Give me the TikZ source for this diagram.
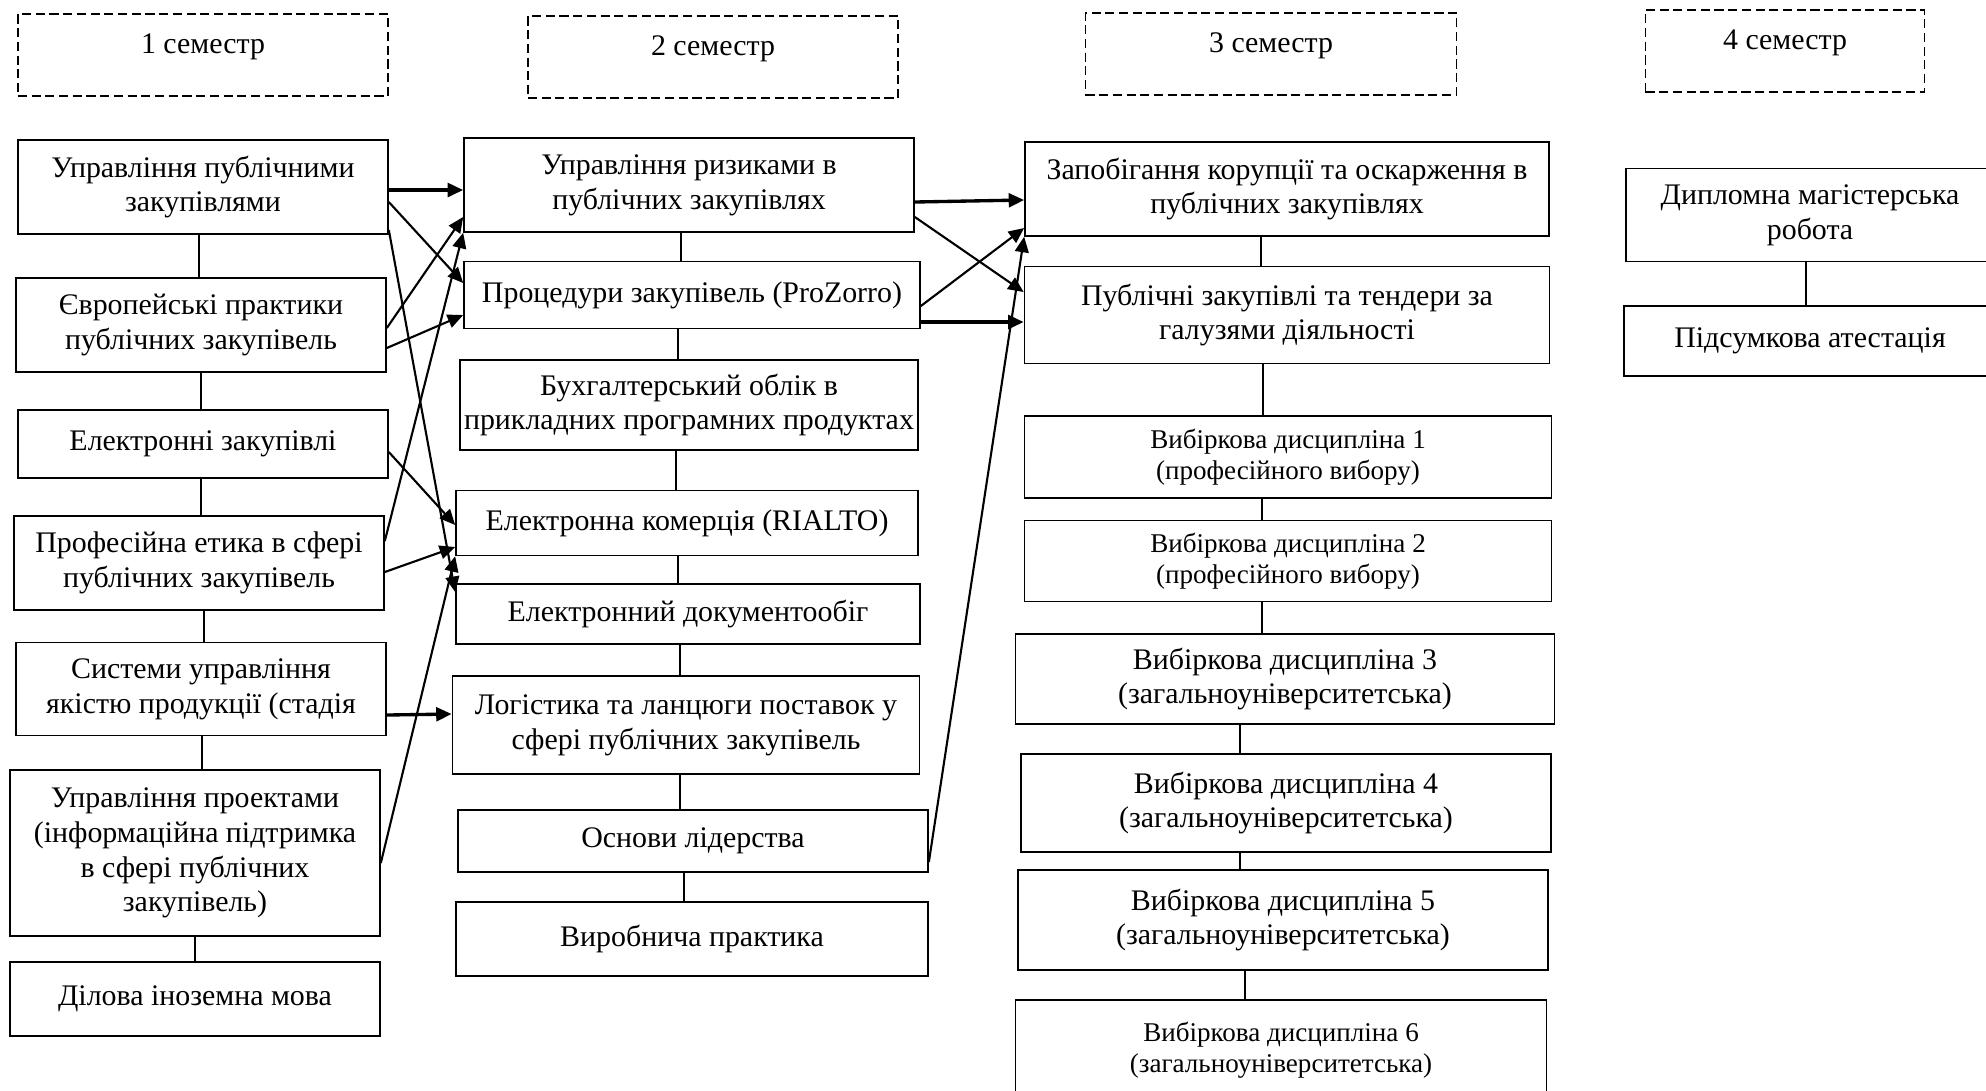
\documentclass[tikz,border=0pt]{standalone}
\usepackage{fontspec}
\setmainfont{Liberation Serif}
\usetikzlibrary{arrows.meta}
\tikzset{sem/.style= {draw, dash pattern=on 2.6pt off 1.3pt, line width=0.45pt, inner sep=0pt, minimum height=0.82cm, text height=6pt, text depth=6.6pt, font=\fontsize{8.5}{9.9}\selectfont}}
\tikzset{box/.style= {draw, line width=0.4pt, align=center, inner sep=0pt, font=\fontsize{8.5}{9.9}\selectfont}}
\tikzset{sbox/.style= {box, font=\fontsize{7.7}{8.8}\selectfont}}
\tikzset{arr/.style= {-{Triangle[length=4.4pt,width=3.9pt]}, line width=0.6pt}}
\tikzset{tarr/.style= {arr, line width=0.95pt}}

\begin{document}
\begin{tikzpicture}[x=0.01cm, y=-0.01cm]
        \useasboundingbox (0,0) rectangle (1986,1090);

        \node[sem, minimum width=3.70cm](S1)at(203,55){1 семестр};
        \node[sem, minimum width=3.70cm](S2)at(713,57){2 семестр};
        \node[sem, minimum width=3.71cm](S3)at(1271,54){3 семестр};
        \node[sem, minimum width=2.79cm](S4)at(1785,51){4 семестр};

        \node[box, minimum width=3.70cm, minimum height=0.94cm](A1)at(203,187){Управління публічними\\закупівлями};
        \node[box, minimum width=3.70cm, minimum height=0.94cm](A2)at(201,325){Європейські практики\\публічних закупівель};
        \node[box, minimum width=3.70cm, minimum height=0.68cm](A3)at(203,444){Електронні закупівлі};
        \node[box, minimum width=3.70cm, minimum height=0.94cm](A4)at(199,563){Професійна етика в сфері\\публічних закупівель};
        \node[box, minimum width=3.70cm, minimum height=0.93cm](A5)at(201,689){Системи управління\\якістю продукції (стадія};
        \node[box, minimum width=3.70cm, minimum height=1.66cm](A6)at(195,853){Управління проектами\\(інформаційна підтримка\\в сфері публічних\\закупівель)};
        \node[box, minimum width=3.70cm, minimum height=0.74cm](A7)at(195,999){Ділова іноземна мова};

        \node[box, minimum width=4.50cm, minimum height=0.94cm](B1)at(689,185){Управління ризиками в\\публічних закупівлях};
        \node[box, minimum width=4.56cm, minimum height=0.67cm](B2)at(692,295){Процедури закупівель (ProZorro)};
        \node[box, minimum width=4.58cm, minimum height=0.90cm](B3)at(689,405){Бухгалтерський облік в\\прикладних програмних продуктах};
        \node[box, minimum width=4.62cm, minimum height=0.65cm](B4)at(687,523){Електронна комерція (RIALTO)};
        \node[box, minimum width=4.64cm, minimum height=0.60cm](B5)at(688,614){Електронний документообіг};
        \node[box, minimum width=4.67cm, minimum height=0.98cm](B6)at(686,725){Логістика та ланцюги поставок у\\сфері публічних закупівель};
        \node[box, minimum width=4.70cm, minimum height=0.62cm](B7)at(693,841){Основи лідерства};
        \node[box, minimum width=4.72cm, minimum height=0.74cm](B8)at(692,939){Виробнича практика};

        \node[box, minimum width=5.24cm, minimum height=0.94cm](C1)at(1287,189){Запобігання корупції та оскарження в\\публічних закупівлях};
        \node[box, minimum width=5.25cm, minimum height=0.97cm](C2)at(1287,315){Публічні закупівлі та тендери за\\галузями діяльності};
        \node[sbox, minimum width=5.27cm, minimum height=0.82cm](C3)at(1288,457){Вибіркова дисципліна 1\\(професійного вибору)};
        \node[sbox, minimum width=5.27cm, minimum height=0.81cm](C4)at(1288,561){Вибіркова дисципліна 2\\(професійного вибору)};
        \node[box, minimum width=5.39cm, minimum height=0.90cm](C5)at(1285,679){Вибіркова дисципліна 3\\(загальноуніверситетська)};
        \node[box, minimum width=5.30cm, minimum height=0.98cm](C6)at(1286,803){Вибіркова дисципліна 4\\(загальноуніверситетська)};
        \node[box, minimum width=5.30cm, minimum height=1.00cm](C7)at(1283,920){Вибіркова дисципліна 5\\(загальноуніверситетська)};
        \node[sbox, minimum width=5.31cm, minimum height=1.00cm](C8)at(1281,1050){Вибіркова дисципліна 6\\(загальноуніверситетська)};

        \node[box, minimum width=3.68cm, minimum height=0.93cm](D1)at(1810,215){Дипломна магістерська\\робота};
        \node[box, minimum width=3.72cm, minimum height=0.70cm](D2)at(1810,341){Підсумкова атестація};

        \foreach \u/\l/\x in {A1/A2/199, A2/A3/201, A3/A4/201, A4/A5/204, A5/A6/202, A6/A7/195,
                B1/B2/681, B2/B3/678, B3/B4/676, B4/B5/678, B5/B6/680, B6/B7/680, B7/B8/684,
                C1/C2/1261, C2/C3/1263, C3/C4/1262, C4/C5/1262, C5/C6/1240, C6/C7/1240, C7/C8/1245,
                D1/D2/1806}
                \draw[line width=0.4pt](\x,0 |- \u.south)--(\x,0 |- \l.north);

        \draw[tarr](A1.east |- 0,190)--(B1.west |- 0,190);
        \draw[arr](A1.east |- 0,202)--(B2.west |- 0,283);
        \draw[arr](A1.east |- 0,230)--(B5.west |- 0,592);
        \draw[arr](A2.east |- 0,328)--(B1.west |- 0,217);
        \draw[arr](A2.east |- 0,348)--(B2.west |- 0,315);
        \draw[arr](A4.east |- 0,541)--(B1.south west);
        \draw[arr](A3.east |- 0,452)--(B4.west |- 0,525);
        \draw[arr](A4.east |- 0,572)--(B4.west |- 0,547);
        \draw[arr](A6.east |- 0,863)--(B4.south west);
        \draw[tarr](A5.east |- 0,715)--(B6.west |- 0,714);

        \draw[tarr](B1.east |- 0,202)--(C1.west |- 0,200);
        \draw[arr](B1.east |- 0,217)--(C2.west |- 0,292);
        \draw[arr](B2.east |- 0,306)--(C1.west |- 0,228);
        \draw[tarr](B2.east |- 0,322)--(C2.west |- 0,322);
        \draw[arr](B7.east |- 0,862)--(C1.south west);
\end{tikzpicture}
\end{document}
